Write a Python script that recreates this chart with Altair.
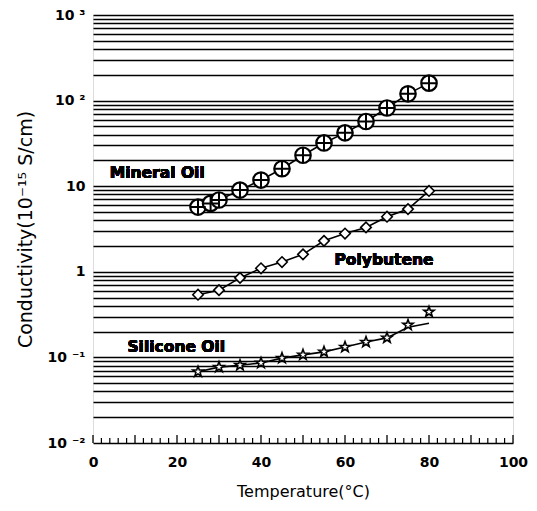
import altair as alt
import pandas as pd

# --- data ---
temp_mineral = [25, 28, 30, 35, 40, 45, 50, 55, 60, 65, 70, 75, 80]
cond_mineral = [5.7, 6.3, 6.9, 9.0, 11.8, 16, 23, 32, 42, 57, 82, 120, 160]

temp_poly = [25, 30, 35, 40, 45, 50, 55, 60, 65, 70, 75, 80]
cond_poly = [0.54, 0.61, 0.85, 1.1, 1.3, 1.6, 2.3, 2.8, 3.3, 4.4, 5.4, 8.8]

temp_sil = [25, 30, 35, 40, 45, 50, 55, 60, 65, 70, 75, 80]
cond_sil = [0.068, 0.077, 0.081, 0.086, 0.098, 0.107, 0.116, 0.132, 0.151, 0.169, 0.239, 0.34]

# fitted curve for silicone oil (ends below the last point)
temp_sil_fit = [25, 30, 35, 40, 45, 50, 55, 60, 65, 70, 75, 80]
cond_sil_fit = [0.068, 0.077, 0.081, 0.086, 0.098, 0.107, 0.116, 0.132, 0.151, 0.169, 0.225, 0.25]

x_labels = [0, 20, 40, 60, 80, 100]
y_decades = [0.01, 0.1, 1, 10, 100, 1000]
grid_vals = sorted({round(n * d, 6) for d in y_decades[:-1] for n in range(1, 10)} | {1000})
x_minor = list(range(0, 101, 2))

df_min = pd.DataFrame({"T": temp_mineral, "C": cond_mineral})
df_poly = pd.DataFrame({"T": temp_poly, "C": cond_poly})
df_sil = pd.DataFrame({"T": temp_sil, "C": cond_sil})
df_sil_fit = pd.DataFrame({"T": temp_sil_fit, "C": cond_sil_fit})
df_ticks = pd.DataFrame({"T": x_minor, "major": [t % 10 == 0 for t in x_minor]})

FONT = "DejaVu Sans"
FS = "\u2007"

label_expr = (
    "datum.value == 1000 ? '10 ³' : datum.value == 100 ? '10 ²' : "
    f"datum.value == 10 ? '10{FS}{FS}' : datum.value == 1 ? '1{FS}' : "
    "datum.value == 0.1 ? '10 ⁻¹' : datum.value == 0.01 ? '10 ⁻²' : ''"
)

xscale = alt.Scale(domain=[0, 100], nice=False)
yscale = alt.Scale(type="log", domain=[0.01, 1000], nice=False)

xenc = alt.X("T:Q", scale=xscale,
             axis=alt.Axis(values=x_labels, title="Temperature(°C)", ticks=False, labelFlush=False,
                           domain=False, grid=False, labelFont=FONT, labelFontSize=14,
                           labelFontWeight="bold", labelPadding=12, labelColor="black",
                           titleFont=FONT, titleFontSize=16, titleFontWeight="normal",
                           titlePadding=14, titleColor="black"))
yenc = alt.Y("C:Q", scale=yscale,
             axis=alt.Axis(values=grid_vals, labelExpr=label_expr, ticks=False, domain=False,
                           grid=True, gridColor="black", gridWidth=1.5, gridOpacity=1,
                           labelFlush=False,
                           title="Conductivity(10⁻¹⁵ S/cm)", labelFont=FONT, labelFontSize=14,
                           labelFontWeight="bold", labelPadding=8, labelColor="black",
                           titleFont=FONT, titleFontSize=19, titleFontWeight="normal",
                           titlePadding=12, titleColor="black"))

base_x = alt.X("T:Q", scale=xscale)
base_y = alt.Y("C:Q", scale=yscale)

grid_layer = alt.Chart(df_min).mark_point(opacity=0).encode(x=xenc, y=yenc)

ticks_major = alt.Chart(df_ticks[df_ticks.major]).mark_rule(color="black", strokeWidth=1.3).encode(
    x=base_x, y=alt.value(428), y2=alt.value(420))
ticks_minor = alt.Chart(df_ticks[~df_ticks.major]).mark_rule(color="black", strokeWidth=1.2).encode(
    x=base_x, y=alt.value(428), y2=alt.value(423))

line_min = alt.Chart(df_min).mark_line(color="black", strokeWidth=1.6).encode(x=base_x, y=base_y)
line_poly = alt.Chart(df_poly).mark_line(color="black", strokeWidth=1.6).encode(x=base_x, y=base_y)
line_sil = alt.Chart(df_sil_fit).mark_line(color="black", strokeWidth=1.6).encode(x=base_x, y=base_y)

pt_min = alt.Chart(df_min).mark_point(shape="circle", size=240, filled=True, fill="white",
                                      stroke="black", strokeWidth=2.2, opacity=1).encode(x=base_x, y=base_y)
plus_min = alt.Chart(df_min).mark_point(shape="M-1,0L1,0M0,-1L0,1", size=240, filled=False,
                                        stroke="black", strokeWidth=2, opacity=1).encode(x=base_x, y=base_y)
pt_poly = alt.Chart(df_poly).mark_point(shape="diamond", size=110, filled=True, fill="white",
                                        stroke="black", strokeWidth=1.6, opacity=1).encode(x=base_x, y=base_y)
pt_sil = alt.Chart(df_sil).mark_point(shape="M0,-1L0.24,-0.33L0.95,-0.31L0.38,0.12L0.59,0.81L0,0.4L-0.59,0.81L-0.38,0.12L-0.95,-0.31L-0.24,-0.33Z",
                                      size=120, filled=True, fill="white",
                                      stroke="black", strokeWidth=1.6, opacity=1).encode(x=base_x, y=base_y)

def label(text, t, c):
    return alt.Chart(df_min).mark_text(text=text, align="left", baseline="middle", font=FONT,
                                       fontSize=15.5, fontWeight="bold", color="black").encode(
        x=alt.datum(t, scale=xscale), y=alt.datum(c, scale=yscale))

labels = label("Mineral Oil", 4, 14.3) + label("Polybutene", 57.5, 1.37) + label("Silicone Oil", 8.2, 0.132)

chart = alt.layer(
    grid_layer, ticks_major, ticks_minor,
    line_min, line_poly, line_sil,
    pt_min, plus_min, pt_poly, pt_sil,
    labels,
).properties(
    width=420, height=428,
    autosize=alt.AutoSizeParams(type="none"),
    padding={"left": 85, "top": 7, "right": 16, "bottom": 60},
).configure_view(stroke="black", strokeWidth=2).configure(background="white")

chart.save("out.html", embed_options={"renderer": "svg", "actions": False})
